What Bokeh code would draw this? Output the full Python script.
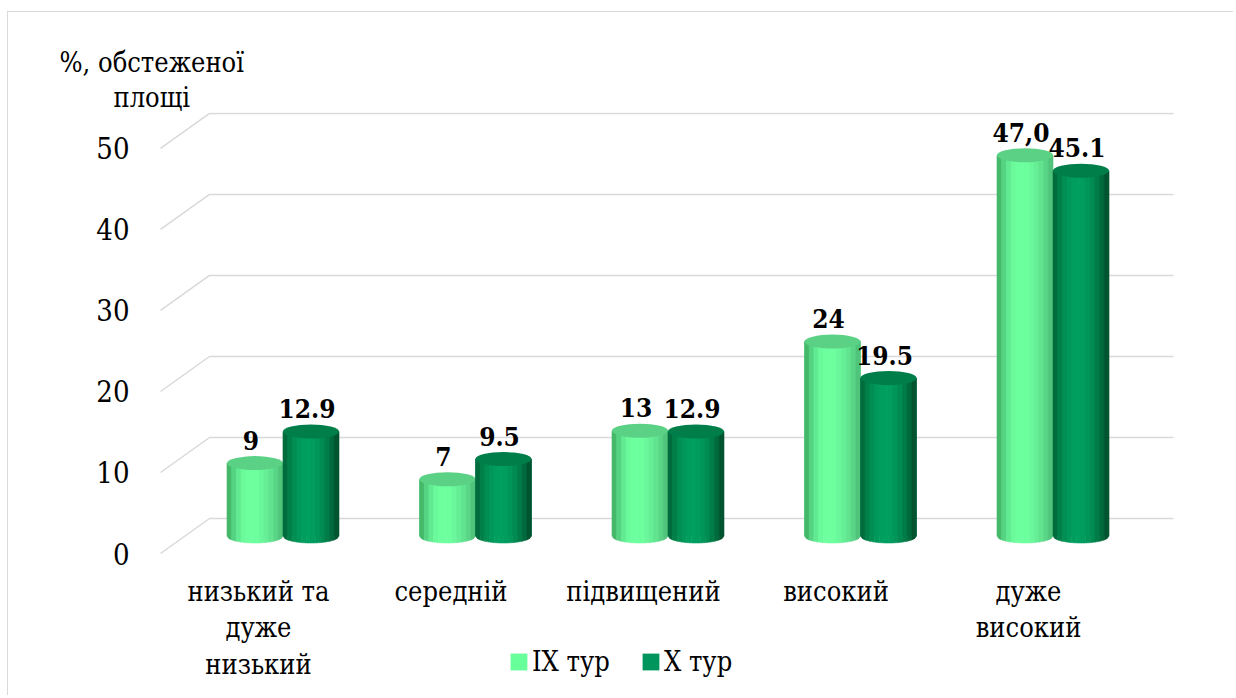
import numpy as np
from bokeh.plotting import figure
from bokeh.models import Range1d, FixedTicker, Legend, LegendItem, Title
from bokeh.core.properties import value
from bokeh.embed import file_html
from bokeh.resources import INLINE

# ---------------- data ----------------
categories = ["низький та\nдуже\nнизький", "середній", "підвищений", "високий", "дуже\nвисокий"]
series_names = ["IX тур", "X тур"]
ix_values = [9, 7, 13, 24, 47.0]
x_values = [12.9, 9.5, 12.9, 19.5, 45.1]
ix_labels = ["9", "7", "13", "24", "47,0"]
x_labels = ["12.9", "9.5", "12.9", "19.5", "45.1"]
y_ticks = [0, 10, 20, 30, 40, 50]
y_title_lines = ["%, обстеженої", "площі"]

# ---------------- geometry / style ----------------
PX_X = 192.5            # pixels per category step
PX_Y = 8.101            # pixels per percent
DEPTH_DX = 49 / PX_X    # floor depth (x units)
DEPTH_DY = 35 / PX_Y    # floor depth (y units)
MID_DX = DEPTH_DX / 2
MID_DY = DEPTH_DY / 2
BAR_W = 56 / PX_X
ELL_H = 14 / PX_Y
N_STRIPS = 12
FONT = "DejaVu Serif Condensed"

ix_strip_colors = ["#45b86a", "#55d382", "#62ea92", "#6af99b", "#6dff9e", "#6effa0",
                   "#6dfe9e", "#6af79b", "#66ee96", "#61e38f", "#5ad587", "#50c47a"]
x_strip_colors = ["#006b3c", "#007f48", "#008e53", "#00985a", "#009e5e", "#00a060",
                  "#009d5e", "#009659", "#008b52", "#007c48", "#006a3d", "#005430"]
ix_top = "#5bd185"
x_top = "#007e49"
ix_legend = "#66ff99"
x_legend = "#00955c"
grid_color = "#d9d9d9"

p = figure(width=1226, height=684,
           x_range=Range1d(-0.561, 5.0701), y_range=Range1d(-17.652, 54.44),
           x_axis_type=None, output_backend="svg", toolbar_location=None, title=None,
           min_border_left=142, min_border_right=0, min_border_top=100, min_border_bottom=0)
p.outline_line_color = None
p.ygrid.visible = False
p.styles = {"margin-left": "7px", "margin-top": "11px",
            "border-left": "1px solid #d9d9d9", "border-top": "1px solid #d9d9d9"}

# y axis (front plane)
yax = p.yaxis[0]
yax.ticker = FixedTicker(ticks=y_ticks)
yax.minor_tick_line_color = None
yax.major_tick_line_color = None
yax.axis_line_color = None
yax.major_label_standoff = 15
yax.major_label_text_font = FONT
yax.major_label_text_font_size = "29px"
yax.major_label_text_color = "black"

# y title: two lines above the axis (inner line added first)
p.add_layout(Title(text=y_title_lines[1], align="left", offset=-37, standoff=0,
                   text_font=FONT, text_font_size="27px", text_font_style="normal",
                   text_color="black"), "above")
p.add_layout(Title(text=y_title_lines[0], align="left", offset=-91, standoff=3,
                   text_font=FONT, text_font_size="27px", text_font_style="normal",
                   text_color="black"), "above")

# 3D gridlines: slanted floor edge + back wall line
x_front_left = -0.509
x_back_right = 4.753
gx, gy = [], []
for v in y_ticks:
    gx.append([x_front_left, x_front_left + DEPTH_DX, x_back_right])
    gy.append([v, v + DEPTH_DY, v + DEPTH_DY])
p.multi_line(gx, gy, line_color=grid_color, line_width=1.5)

# cylinders
def cylinders(values, offset, strip_colors, top_color, legend_color):
    centers = [i + MID_DX + offset for i in range(len(values))]
    tops = [v + MID_DY for v in values]
    body = p.vbar(x=centers, top=tops, bottom=MID_DY, width=BAR_W,
                  fill_color=legend_color, line_color=None)
    xs, ys, cs = [], [], []
    for xc, yt in zip(centers, tops):
        yb = MID_DY
        edges = np.linspace(xc - BAR_W / 2, xc + BAR_W / 2, N_STRIPS + 1)
        for k in range(N_STRIPS):
            xl, xr = edges[k], edges[k + 1]
            sub = np.linspace(xl, xr, 4)
            t = (sub - xc) / (BAR_W / 2)
            bottom = yb - (ELL_H / 2) * np.sqrt(np.clip(1 - t ** 2, 0, 1))
            xs.append([xl, xr] + list(sub[::-1]))
            ys.append([yt, yt] + list(bottom[::-1]))
            cs.append(strip_colors[k])
    p.patches(xs, ys, fill_color=cs, line_color=cs, line_width=0.6)
    p.ellipse(centers, tops, width=BAR_W, height=ELL_H, fill_color=top_color, line_color=None)
    return centers, tops, body

ix_tx, ix_ty, r_ix = cylinders(ix_values, -BAR_W / 2, ix_strip_colors, ix_top, ix_legend)
x_tx, x_ty, r_x = cylinders(x_values, BAR_W / 2, x_strip_colors, x_top, x_legend)

# data labels
for tx, ty, labs in ((ix_tx, ix_ty, ix_labels), (x_tx, x_ty, x_labels)):
    p.text(tx, ty, text=labs, x_offset=-4, y_offset=-23,
           text_align="center", text_baseline="middle",
           text_font=value(FONT), text_font_size="26px", text_font_style="bold",
           text_color="black")

# category labels (front edge)
p.text(list(range(len(categories))), [0] * len(categories), text=categories,
       y_offset=22, text_align="center", text_baseline="top",
       text_font=value(FONT), text_font_size="27px", text_line_height=1.18,
       text_color="black")

# legend
legend = Legend(items=[LegendItem(label=series_names[0], renderers=[r_ix]),
                       LegendItem(label=series_names[1], renderers=[r_x])],
                orientation="horizontal", location=(358, 19),
                glyph_width=21, glyph_height=21, label_standoff=3, spacing=30,
                padding=0, margin=0, border_line_color=None, background_fill_alpha=0,
                label_text_font=FONT, label_text_font_size="27px", label_text_color="black")
p.add_layout(legend)

open("out.html", "w").write(file_html(p, INLINE))
